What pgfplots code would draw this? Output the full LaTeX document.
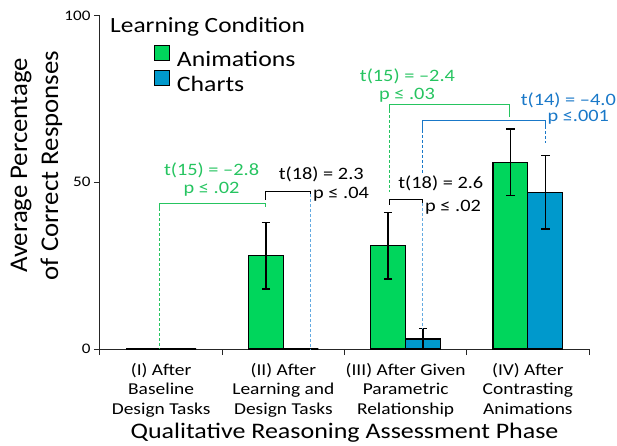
\documentclass[border=0pt]{standalone}
\usepackage{pgfplots}
\pgfplotsset{compat=1.18}
\usepackage{pgfplotstable}
\usepackage{fontspec}
\setmainfont{Carlito}[FakeStretch=1.17]
\newfontfamily\ylabfont{Carlito}[FakeStretch=1.05]
\definecolor{anim}{RGB}{0,214,92}
\definecolor{chart}{RGB}{0,153,204}
\definecolor{agreen}{RGB}{38,196,96}
\definecolor{ablue}{RGB}{25,120,200}
\definecolor{lblue}{RGB}{100,170,225}
\newcommand{\fs}[2]{\fontsize{#1}{#2}\selectfont}

\pgfplotstableread{
x y e
0 0 0
1 28 10
2 31 10
3 56 10
}\animdata
\pgfplotstableread{
x y e
0 0 0
1 0 0
2 3 3.1
3 47 11
}\chartdata

\begin{document}
\begin{tikzpicture}
\useasboundingbox (-100pt,-96pt) rectangle (517pt,349pt);
\begin{axis}[
  at={(0pt,0pt)}, anchor=south west,
  scale only axis, width=489pt, height=333.5pt,
  xmin=-0.5, xmax=3.5, ymin=0, ymax=100,
  ybar=0pt, bar width=0.286,
  axis x line*=bottom, axis y line*=left,
  axis line style={line width=1pt, black!85},
  tick align=outside,
  major tick length=6pt,
  tick style={line width=1pt, black!85},
  xtick={-0.5,0.5,1.5,2.5,3.5}, xticklabels={},
  extra x ticks={0,1,2,3},
  extra x tick labels={{(I) After\\Baseline\\Design Tasks},{(II) After\\Learning and\\Design Tasks},{(III) After Given\\Parametric\\Relationship},{(IV) After\\Contrasting\\Animations}},
  extra x tick style={major tick length=0pt, xticklabel style={align=center, font=\fs{16.6}{19.5}, inner sep=0pt, anchor=north, yshift=-14pt}},
  ytick={0,50,100},
  yticklabel style={font=\fs{14.6}{16}},
  /pgf/number format/assume math mode=true,
  xlabel={Qualitative Reasoning Assessment Phase},
  xlabel style={font=\fs{22.2}{26}, at={(axis description cs:0.5,0)}, anchor=base, yshift=-89pt, inner sep=0pt},
  ylabel={Average Percentage\\of Correct Responses},
  ylabel style={font=\ylabfont\fs{25.5}{31}, align=center, at={(axis description cs:-0.13,0.55)}, anchor=center},
  clip=false,
  legend style={at={(axis description cs:0.110,0.912)}, anchor=north west, draw=none, fill=none, inner sep=0pt, row sep=2pt, font=\fs{22}{26}, nodes={inner sep=0pt}, /tikz/every odd column/.append style={column sep=7pt}},
  legend cell align=left,
]
\addplot[fill=anim, draw=black, line width=1.2pt,
  legend image code/.code={\draw[fill=anim, draw=black, line width=1pt] (0pt,-1pt) rectangle (15pt,14pt);},
  error bars/.cd, y dir=both, y explicit, error bar style={line width=1.3pt, black}, error mark options={rotate=90, mark size=4.2pt, line width=1.3pt, black}]
  table[x=x, y=y, y error=e] {\animdata};
\addlegendentry{Animations}
\addplot[fill=chart, draw=black, line width=1.2pt,
  legend image code/.code={\draw[fill=chart, draw=black, line width=1pt] (0pt,-1pt) rectangle (15pt,14pt);},
  error bars/.cd, y dir=both, y explicit, error bar style={line width=1.3pt, black}, error mark options={rotate=90, mark size=4.2pt, line width=1.3pt, black}]
  table[x=x, y=y, y error=e] {\chartdata};
\addlegendentry{Charts}

\node[anchor=base west, inner sep=0pt, font=\fs{21.7}{26}] at (axis cs:-0.418,95.0) {Learning Condition};

% bracket 1 (green, I vs II animations)
\draw[agreen, line width=0.9pt] (axis cs:-0.017,42.3) -- (axis cs:-0.017,43.7) -- (axis cs:0.855,43.7) -- (axis cs:0.855,42.6);
\draw[agreen, line width=0.9pt, dash pattern=on 3pt off 2pt] (axis cs:-0.017,42.3) -- (axis cs:-0.017,0);
\node[agreen, anchor=base, inner sep=0pt, font=\fs{17.4}{20}] at (axis cs:0.413,51.9) {t(15) = –2.8};
\node[agreen, anchor=base, inner sep=0pt, font=\fs{17.4}{20}] at (axis cs:0.413,46.7) {p ≤ .02};

% bracket 2 (black, II)
\draw[black, line width=0.9pt] (axis cs:0.855,44.7) -- (axis cs:0.855,47.2) -- (axis cs:1.218,47.2) -- (axis cs:1.218,46.5);
\draw[lblue, line width=0.9pt, dash pattern=on 3pt off 2pt] (axis cs:1.218,46.5) -- (axis cs:1.218,0);
\node[anchor=base, inner sep=0pt, font=\fs{17.4}{20}] at (axis cs:1.310,50.8) {t(18) = 2.3};
\node[anchor=base west, inner sep=0pt, font=\fs{17.4}{20}] at (axis cs:1.242,45.0) {p ≤ .04};

% bracket 3 (green, III vs IV animations)
\draw[agreen, line width=0.9pt] (axis cs:1.864,71.7) -- (axis cs:1.864,73.2) -- (axis cs:2.848,73.2) -- (axis cs:2.848,69.7);
\draw[agreen, line width=0.9pt, dash pattern=on 3pt off 2pt] (axis cs:1.864,71.7) -- (axis cs:1.864,47.1);
\node[agreen, anchor=base, inner sep=0pt, font=\fs{17.4}{20}] at (axis cs:2.015,80.2) {t(15) = –2.4};
\node[agreen, anchor=base, inner sep=0pt, font=\fs{17.4}{20}] at (axis cs:2.011,74.8) {p ≤ .03};

% bracket 4 (blue, III vs IV charts)
\draw[ablue, line width=0.9pt] (axis cs:2.14,65.7) -- (axis cs:2.14,68.5) -- (axis cs:3.146,68.5) -- (axis cs:3.146,66.9);
\draw[ablue, line width=0.9pt, dash pattern=on 3pt off 2pt] (axis cs:2.14,65.7) -- (axis cs:2.14,52.8);
\draw[ablue, line width=0.9pt, dash pattern=on 3pt off 2pt] (axis cs:3.146,66.9) -- (axis cs:3.146,61.8);
\node[ablue, anchor=base, inner sep=0pt, font=\fs{17.4}{20}] at (axis cs:3.331,72.9) {t(14) = –4.0};
\node[ablue, anchor=base west, inner sep=0pt, font=\fs{17.4}{20}] at (axis cs:3.159,68.2) {p ≤.001};

% bracket 5 (black, III)
\draw[black, line width=0.9pt] (axis cs:1.864,43.2) -- (axis cs:1.864,44.7) -- (axis cs:2.14,44.7) -- (axis cs:2.14,43.8);
\draw[lblue, line width=0.9pt, dash pattern=on 3pt off 2pt] (axis cs:2.14,43.8) -- (axis cs:2.14,6.3);
\node[anchor=base, inner sep=0pt, font=\fs{17.4}{20}] at (axis cs:2.288,48.0) {t(18) = 2.6};
\node[anchor=base west, inner sep=0pt, font=\fs{17.4}{20}] at (axis cs:2.158,41.1) {p ≤ .02};
\end{axis}
\end{tikzpicture}
\end{document}
